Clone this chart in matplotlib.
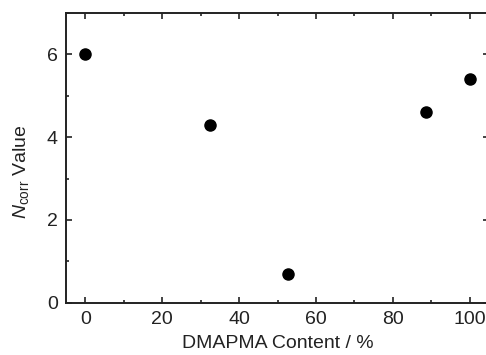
import matplotlib
matplotlib.use("Agg")
import matplotlib.pyplot as plt
from matplotlib.ticker import MultipleLocator

# DMAPMA content (%) and the corresponding N_corr values
dmapma_content = [0, 32.5, 52.8, 88.7, 100]
n_corr = [6.0, 4.3, 0.7, 4.6, 5.4]

plt.rcParams["font.family"] = ["Liberation Sans", "DejaVu Sans"]
plt.rcParams["mathtext.fontset"] = "custom"
plt.rcParams["mathtext.rm"] = "Liberation Sans"
plt.rcParams["mathtext.it"] = "Liberation Sans:italic"

fig = plt.figure(figsize=(4.86, 3.55), dpi=100)
ax = fig.add_axes([0.136, 0.147, 0.870, 0.817])

ax.plot(dmapma_content, n_corr, "o", color="black", markersize=8)

ax.set_xlim(-5, 105)
ax.set_ylim(0, 7)
ax.xaxis.set_major_locator(MultipleLocator(20))
ax.xaxis.set_minor_locator(MultipleLocator(10))
ax.yaxis.set_major_locator(MultipleLocator(2))
ax.yaxis.set_minor_locator(MultipleLocator(1))

ax.tick_params(which="both", direction="in", top=True, right=True,
               width=1.2, colors="#222222", labelcolor="#222222")
ax.tick_params(which="major", length=4.5, labelsize=14, pad=6)
ax.tick_params(which="minor", length=2.5)

for spine in ax.spines.values():
    spine.set_linewidth(1.4)
    spine.set_color("#222222")

ax.set_xlabel("DMAPMA Content / %", fontsize=14, color="#222222", labelpad=5)
ax.set_ylabel(r"$\mathit{N}_{\mathrm{corr}}$ Value", fontsize=14,
              color="#222222")
# label sits slightly below the axis middle
ax.yaxis.set_label_coords(-0.082, 0.452)

fig.savefig("out.png", dpi=100)
